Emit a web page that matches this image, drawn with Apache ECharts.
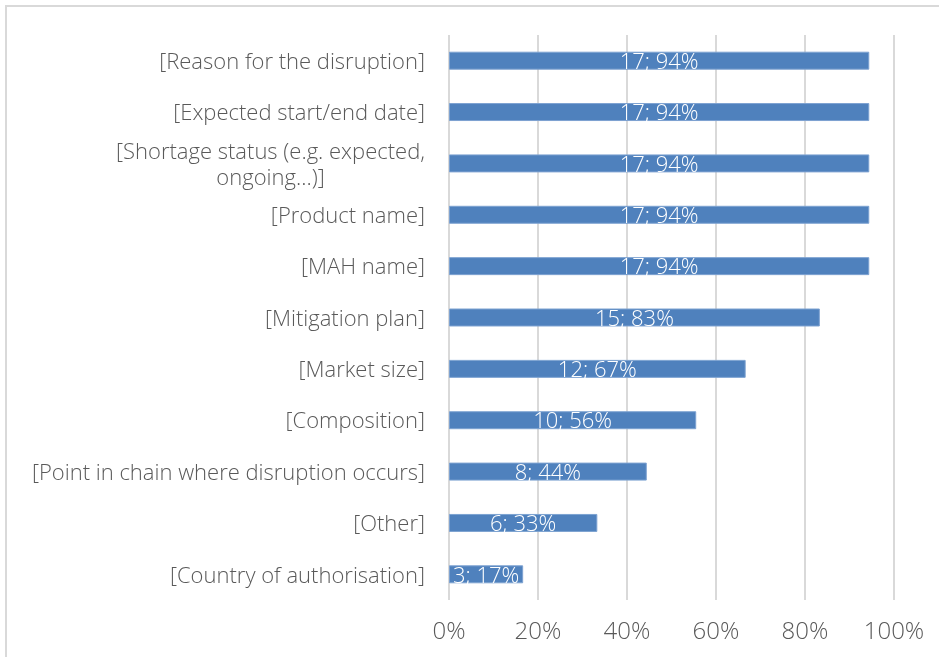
<!DOCTYPE html>
<html>
<head>
<meta charset="utf-8">
<script src="https://cdn.jsdelivr.net/npm/echarts@6/dist/echarts.min.js"></script>
<style>
  html, body { margin: 0; padding: 0; background: #ffffff; }
  #chart { width: 939px; height: 657px; }
</style>
</head>
<body>
<div id="chart"></div>
<script>
// Information fields reported, listed top to bottom
const categories = [
  '[Reason for the disruption]',
  '[Expected start/end date]',
  '[Shortage status (e.g. expected,\nongoing...)]',
  '[Product name]',
  '[MAH name]',
  '[Mitigation plan]',
  '[Market size]',
  '[Composition]',
  '[Point in chain where disruption occurs]',
  '[Other]',
  '[Country of authorisation]'
];
// Number of respondents per field
const counts = [17, 17, 17, 17, 17, 15, 12, 10, 8, 6, 3];
// Total respondents (share = count / total)
const totalRespondents = 18;
const xTicks = [0, 20, 40, 60, 80, 100];

const FONT = "'Century Gothic', 'Open Sans', sans-serif";
const WEIGHT = 300;
const CAT_SIZE = 22;

// Category axis runs bottom-up, so reverse for top-to-bottom order
const cats = categories.slice().reverse();
const cnts = counts.slice().reverse();
const shares = cnts.map(c => c / totalRespondents * 100);

// Width of the widest line of the wrapped label, so its lines centre on each other
const ctx = document.createElement('canvas').getContext('2d');
ctx.font = WEIGHT + ' ' + CAT_SIZE + 'px ' + FONT;
const wrapWidth = Math.ceil(Math.max(...categories
  .filter(c => c.indexOf('\n') >= 0)
  .flatMap(c => c.split('\n'))
  .map(s => ctx.measureText(s).width)));

const chart = echarts.init(document.getElementById('chart'));
chart.setOption({
  backgroundColor: '#ffffff',
  animation: false,
  graphic: [{
    type: 'polyline',
    shape: { points: [[6, 700], [6, 6], [1000, 6]] },
    style: { fill: null, stroke: '#d9d9d9', lineWidth: 2 },
    silent: true
  }],
  grid: { left: 449, right: 45, top: 35, bottom: 57, containLabel: false },
  xAxis: {
    type: 'value',
    min: xTicks[0],
    max: xTicks[xTicks.length - 1],
    interval: 20,
    axisLine: { show: false },
    axisTick: { show: false },
    splitLine: { show: true, lineStyle: { color: '#d9d9d9', width: 2 } },
    axisLabel: {
      formatter: v => v + '%',
      color: '#595959',
      fontSize: 24,
      fontWeight: WEIGHT,
      fontFamily: FONT,
      margin: 20
    }
  },
  yAxis: {
    type: 'category',
    data: cats,
    axisLine: { show: false },
    axisTick: { show: false },
    splitLine: { show: false },
    axisLabel: {
      color: '#595959',
      fontSize: CAT_SIZE,
      fontWeight: WEIGHT,
      fontFamily: FONT,
      margin: 24,
      lineHeight: 26,
      padding: [4, 0, 0, 0],
      formatter: function (v) {
        if (v.indexOf('\n') >= 0) {
          return v.split('\n').map(s => '{c|' + s + '}').join('\n');
        }
        return v;
      },
      rich: {
        c: { color: '#595959', fontSize: CAT_SIZE, fontWeight: WEIGHT, fontFamily: FONT,
             width: wrapWidth, align: 'center', lineHeight: 26 }
      }
    }
  },
  series: [{
    type: 'bar',
    data: shares,
    barWidth: '35%',
    itemStyle: { color: '#4f81bd', borderColor: '#7da2d1', borderWidth: 1 },
    label: {
      show: true,
      position: 'inside',
      offset: [0, 2],
      color: '#ffffff',
      fontSize: 22,
      fontWeight: WEIGHT,
      fontFamily: FONT,
      formatter: p => cnts[p.dataIndex] + '; ' + Math.round(p.value) + '%'
    }
  }]
});
</script>
</body>
</html>
